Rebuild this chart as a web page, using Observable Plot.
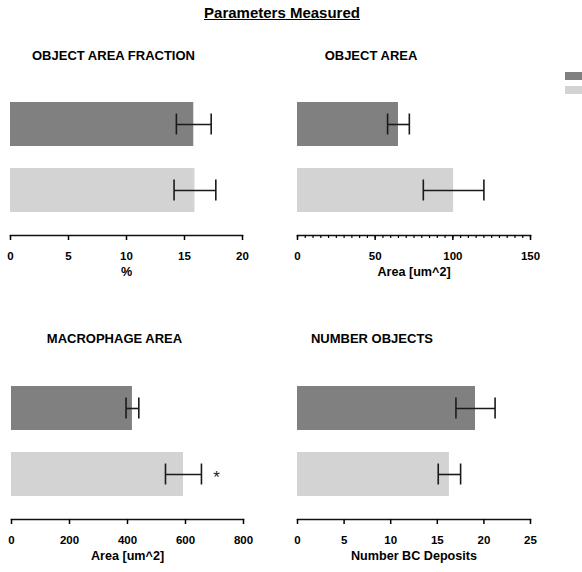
<!DOCTYPE html>
<html>
<head>
<meta charset="utf-8">
<script src="https://cdn.jsdelivr.net/npm/d3@7"></script>
<script src="https://cdn.jsdelivr.net/npm/@observablehq/plot@0.6"></script>
<style>
  body { margin: 0; background: #fff; }
  #root { position: relative; width: 582px; height: 572px; overflow: hidden; background: #fff;
          font-family: "Liberation Sans", Arial, Helvetica, sans-serif; color: #000; }
  .abs { position: absolute; }
  .ttl { font-weight: bold; font-size: 13px; line-height: 13px; text-align: center; width: 240px; white-space: nowrap; }
  .main { font-weight: bold; font-size: 15px; line-height: 15px; text-align: center; width: 240px; text-decoration: underline; white-space: nowrap; }
</style>
</head>
<body>
<div id="root"></div>
<script>
// ---- data ----
const mainTitle = "Parameters Measured";
const groups = ["Group 1", "Group 2"];
const groupColors = ["#808080", "#d3d3d3"];

const panelTitles = ["OBJECT AREA FRACTION", "OBJECT AREA", "MACROPHAGE AREA", "NUMBER OBJECTS"];
const axisLabels = ["%", "Area [um^2]", "Area [um^2]", "Number BC Deposits"];

const fractionMeans = [15.8, 15.9];
const fractionErrs = [1.5, 1.8];
const areaMeans = [65, 100.5];
const areaErrs = [7, 19.5];
const macroMeans = [417, 593];
const macroErrs = [22, 62];
const numberMeans = [19.1, 16.3];
const numberErrs = [2.1, 1.2];

const macroStars = ["", "*"];
const noStars = ["", ""];

const fractionTicks = [0, 5, 10, 15, 20];
const areaTicks = [0, 50, 100, 150];
const areaMinorTicks = d3.range(0, 151, 5);
const macroTicks = [0, 200, 400, 600, 800];
const numberTicks = [0, 5, 10, 15, 20, 25];

// ---- drawing ----
const root = document.getElementById("root");

function addDiv(cls, text, left, top) {
  const d = document.createElement("div");
  d.className = "abs " + cls;
  d.textContent = text;
  d.style.left = left + "px";
  d.style.top = top + "px";
  root.appendChild(d);
  return d;
}

addDiv("main", mainTitle, 282 - 120, 5);
addDiv("ttl", panelTitles[0], 113.5 - 120, 49);
addDiv("ttl", panelTitles[1], 371 - 120, 49);
addDiv("ttl", panelTitles[2], 114.5 - 120, 332);
addDiv("ttl", panelTitles[3], 372 - 120, 332);

function panel({left, top, ml, mr, domain, ticks, minor, label, means, errs, stars}) {
  const data = groups.map((g, i) => ({g, m: means[i], lo: means[i] - errs[i], hi: means[i] + errs[i], star: stars[i]}));
  const marks = [
    Plot.barX(data, {x: "m", y: "g", fill: "g"}),
    Plot.link(data, {x1: "lo", x2: "hi", y1: "g", y2: "g", stroke: "#1a1a1a", strokeWidth: 1.6}),
    Plot.tickX(data, {x: "lo", y: "g", insetTop: 11.5, insetBottom: 11.5, stroke: "#1a1a1a", strokeWidth: 1.6}),
    Plot.tickX(data, {x: "hi", y: "g", insetTop: 11.5, insetBottom: 11.5, stroke: "#1a1a1a", strokeWidth: 1.6}),
    Plot.text(data.filter(d => d.star), {x: "hi", y: "g", text: "star", dx: 15, dy: 3, fontSize: 17, fontWeight: "normal", fill: "#222"}),
    Plot.frame({anchor: "bottom", stroke: "#111", strokeWidth: 1.5})
  ];
  if (minor) marks.push(Plot.axisX({ticks: minor, tickSize: 3, tickFormat: () => "", label: null, strokeWidth: 1.2}));
  marks.push(Plot.axisX({ticks, tickSize: 5, tickPadding: 11, label: null, strokeWidth: 1.5, tickFormat: d3.format("d")}));
  marks.push(Plot.text([label], {frameAnchor: "bottom", dy: 40, fontSize: 12.6, fontWeight: "bold", fill: "#000"}));
  const svg = Plot.plot({
    width: 290,
    height: 215,
    marginLeft: ml,
    marginRight: mr,
    marginTop: 10,
    marginBottom: 50,
    x: {domain, label: null},
    y: {domain: groups, padding: 0.33, axis: null},
    color: {domain: groups, range: groupColors},
    style: {fontFamily: "\"Liberation Sans\", Arial, sans-serif", fontSize: "11.5px", fontWeight: "bold", color: "#000", background: "transparent"},
    marks
  });
  svg.style.position = "absolute";
  svg.style.left = left + "px";
  svg.style.top = top + "px";
  root.appendChild(svg);
}

panel({left: 0, top: 70, ml: 10, mr: 48, domain: [0, 20], ticks: fractionTicks, label: axisLabels[0], means: fractionMeans, errs: fractionErrs, stars: noStars});
panel({left: 290, top: 70, ml: 7, mr: 50, domain: [0, 150], ticks: areaTicks, minor: areaMinorTicks, label: axisLabels[1], means: areaMeans, errs: areaErrs, stars: noStars});
panel({left: 0, top: 354, ml: 11, mr: 47, domain: [0, 800], ticks: macroTicks, label: axisLabels[2], means: macroMeans, errs: macroErrs, stars: macroStars});
panel({left: 290, top: 354, ml: 7, mr: 50, domain: [0, 25], ticks: numberTicks, label: axisLabels[3], means: numberMeans, errs: numberErrs, stars: noStars});

// legend swatches (labels fall outside the visible area in the reference)
groups.forEach((g, i) => {
  const s = document.createElement("div");
  s.className = "abs";
  s.title = g;
  s.style.left = "565px";
  s.style.top = (72 + i * 14) + "px";
  s.style.width = "20px";
  s.style.height = "8px";
  s.style.background = groupColors[i];
  root.appendChild(s);
});
</script>
</body>
</html>
